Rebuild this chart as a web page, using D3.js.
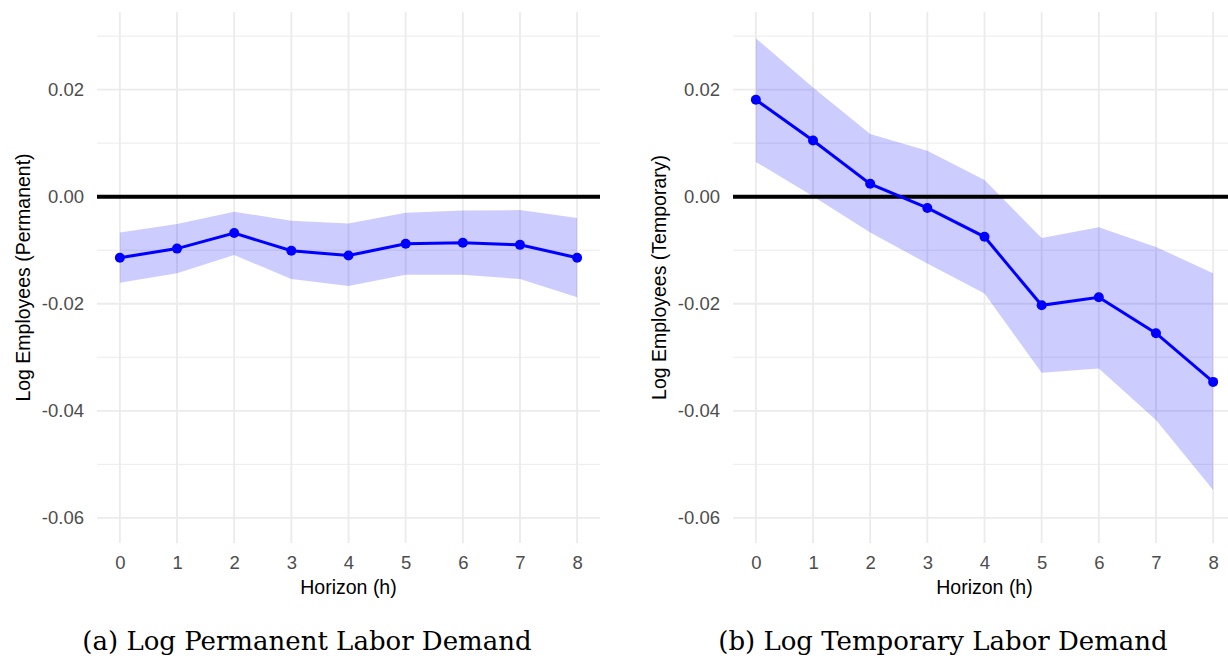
<!DOCTYPE html>
<html>
<head>
<meta charset="utf-8">
<script src="https://cdn.jsdelivr.net/npm/d3@7"></script>
<style>
  body { margin: 0; background: #fff; }
  svg { display: block; }
</style>
</head>
<body>
<script>
// horizons 0..8
const horizons = [0, 1, 2, 3, 4, 5, 6, 7, 8];

// panel (a) permanent
const permEst   = [-0.0114, -0.0097, -0.0068, -0.0101, -0.0110, -0.0088, -0.0086, -0.0090, -0.0114];
const permUpper = [-0.0067, -0.0051, -0.0028, -0.0045, -0.0050, -0.0030, -0.0026, -0.0025, -0.0040];
const permLower = [-0.0161, -0.0143, -0.0109, -0.0154, -0.0167, -0.0146, -0.0146, -0.0154, -0.0188];

// panel (b) temporary
const tempEst   = [0.0181, 0.0105, 0.0024, -0.0021, -0.0075, -0.0203, -0.0188, -0.0255, -0.0346];
const tempUpper = [0.0296, 0.0204, 0.0117, 0.0086, 0.0031, -0.0077, -0.0057, -0.0094, -0.0143];
const tempLower = [0.0065, 0.0001, -0.0067, -0.0125, -0.0181, -0.0329, -0.0321, -0.0417, -0.0548];

const yTicks = [0.02, 0.00, -0.02, -0.04, -0.06];
const yMinor = [0.03, 0.01, -0.01, -0.03, -0.05];

const W = 1228, H = 658;

const svg = d3.select("body").append("svg")
  .attr("width", W)
  .attr("height", H);

const panels = [
  {left: 97, est: permEst, lo: permLower, hi: permUpper,
   ytitle: "Log Employees (Permanent)", caption: "(a) Log Permanent Labor Demand"},
  {left: 733, est: tempEst, lo: tempLower, hi: tempUpper,
   ytitle: "Log Employees (Temporary)", caption: "(b) Log Temporary Labor Demand"}
];

const plotTop = 12, plotBottom = 543, pw = 503;
const sans = "Liberation Sans, Arial, sans-serif";
const fmt = d3.format(".2f");

panels.forEach(function(p) {
  const g = svg.append("g");

  const x = d3.scaleLinear()
    .domain([-0.4, 8.4])
    .range([p.left, p.left + pw]);

  const y = d3.scaleLinear()
    .domain([0.0345, -0.0647])
    .range([plotTop, plotBottom]);

  // minor grid
  g.selectAll(".minor")
    .data(yMinor)
    .enter()
    .append("line")
    .attr("x1", p.left).attr("x2", p.left + pw)
    .attr("y1", function(d){ return y(d); })
    .attr("y2", function(d){ return y(d); })
    .attr("stroke", "#ebebeb")
    .attr("stroke-width", 1);

  // major grid
  g.selectAll(".major")
    .data(yTicks)
    .enter()
    .append("line")
    .attr("x1", p.left).attr("x2", p.left + pw)
    .attr("y1", function(d){ return y(d); })
    .attr("y2", function(d){ return y(d); })
    .attr("stroke", "#ebebeb")
    .attr("stroke-width", 1.8);

  g.selectAll(".vgrid")
    .data(horizons)
    .enter()
    .append("line")
    .attr("x1", function(d){ return x(d); })
    .attr("x2", function(d){ return x(d); })
    .attr("y1", plotTop).attr("y2", plotBottom)
    .attr("stroke", "#ebebeb")
    .attr("stroke-width", 1.8);

  // confidence band
  const area = d3.area()
    .x(function(d, i){ return x(horizons[i]); })
    .y0(function(d, i){ return y(p.lo[i]); })
    .y1(function(d, i){ return y(p.hi[i]); });

  g.append("path")
    .datum(p.est)
    .attr("d", area)
    .attr("fill", "#0000ff")
    .attr("fill-opacity", 0.2);

  // zero line
  g.append("line")
    .attr("x1", p.left).attr("x2", p.left + pw)
    .attr("y1", y(0)).attr("y2", y(0))
    .attr("stroke", "#000")
    .attr("stroke-width", 4);

  const line = d3.line()
    .x(function(d, i){ return x(horizons[i]); })
    .y(function(d){ return y(d); });

  g.append("path")
    .datum(p.est)
    .attr("d", line)
    .attr("fill", "none")
    .attr("stroke", "#0000ff")
    .attr("stroke-width", 3);

  g.selectAll(".pt")
    .data(p.est)
    .enter()
    .append("circle")
    .attr("cx", function(d, i){ return x(horizons[i]); })
    .attr("cy", function(d){ return y(d); })
    .attr("r", 5)
    .attr("fill", "#0000ff");

  // axes (text only, ggplot minimal style)
  const yAxis = d3.axisLeft(y)
    .tickValues(yTicks)
    .tickFormat(function(d){ return fmt(d).replace("\u2212", "-"); })
    .tickSize(0)
    .tickPadding(0);

  g.append("g")
    .attr("transform", "translate(" + (p.left - 13) + ",0)")
    .call(yAxis)
    .call(function(a){ a.select(".domain").remove(); })
    .selectAll("text")
    .attr("fill", "#4d4d4d")
    .style("font-family", sans)
    .style("font-size", "18.5px");

  const xAxis = d3.axisBottom(x)
    .tickValues(horizons)
    .tickFormat(d3.format("d"))
    .tickSize(0)
    .tickPadding(0);

  g.append("g")
    .attr("transform", "translate(0," + (plotBottom + 13) + ")")
    .call(xAxis)
    .call(function(a){ a.select(".domain").remove(); })
    .selectAll("text")
    .attr("fill", "#4d4d4d")
    .style("font-family", sans)
    .style("font-size", "18.5px");

  g.append("text")
    .attr("x", p.left + pw / 2)
    .attr("y", 594)
    .attr("text-anchor", "middle")
    .style("font-family", sans)
    .style("font-size", "19.5px")
    .text("Horizon (h)");

  g.append("text")
    .attr("transform", "translate(" + (p.left - 74) + "," + ((plotTop + plotBottom) / 2) + ") rotate(-90)")
    .attr("text-anchor", "middle")
    .attr("dy", "0.35em")
    .style("font-family", sans)
    .style("font-size", "19.5px")
    .text(p.ytitle);

  g.append("text")
    .attr("x", p.left + 210)
    .attr("y", 650)
    .attr("text-anchor", "middle")
    .style("font-family", "DejaVu Serif, serif")
    .style("font-size", "26px")
    .text(p.caption);
});
</script>
</body>
</html>
